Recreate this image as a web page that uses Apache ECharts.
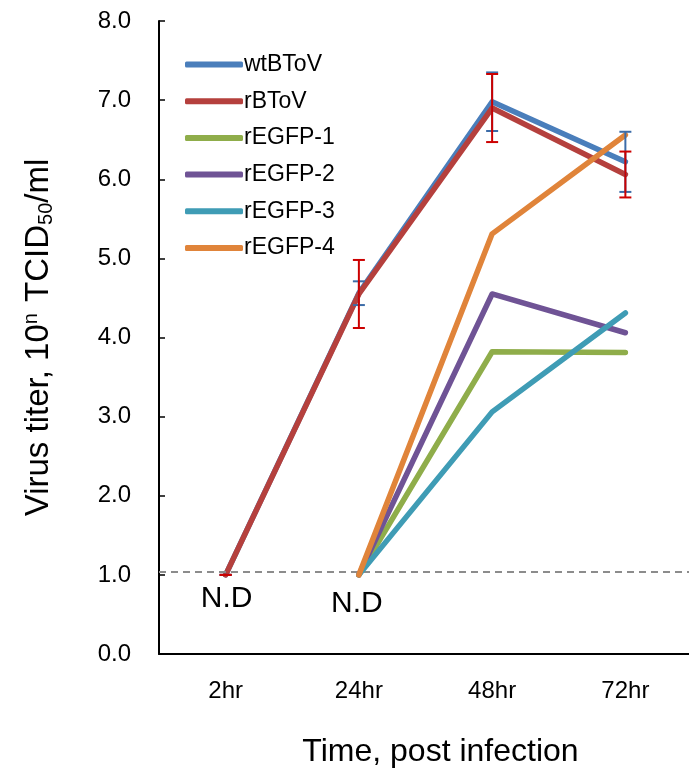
<!DOCTYPE html>
<html>
<head>
<meta charset="utf-8">
<script src="https://cdn.jsdelivr.net/npm/echarts@6/dist/echarts.min.js"></script>
<style>html,body{margin:0;padding:0;background:#fff}#c{width:689px;height:768px}</style>
</head>
<body>
<div id="c"></div>
<script>
const categories = ['2hr', '24hr', '48hr', '72hr'];
const yTicks = [0, 1, 2, 3, 4, 5, 6, 7, 8];
const wtBToV = [1.0, 4.56, 6.98, 6.22];
const wtBToVErr = [0, 0.15, 0.37, 0.38];
const rBToV = [1.0, 4.55, 6.90, 6.06];
const rBToVErr = [0, 0.43, 0.43, 0.29];
const rEGFP1 = [null, 1.0, 3.82, 3.81];
const rEGFP2 = [null, 1.0, 4.55, 4.06];
const rEGFP3 = [null, 1.0, 3.06, 4.31];
const rEGFP4 = [null, 1.0, 5.31, 6.56];
const detectionLimit = 1.04;
const ndLabels = [['2hr', 1.0, 'N.D'], ['24hr', 1.0, 'N.D']];

const FONT = '"Liberation Sans", Arial, sans-serif';
const colors = {
  wt: '#4A7EBB', r: '#B5403D', g1: '#8FAD4A', g2: '#6F5395', g3: '#3F9CB5', g4: '#E0843A'
};

function lineSeries(name, data, color, z) {
  return {
    name, type: 'line', data, z,
    symbol: 'none', smooth: false, connectNulls: false,
    lineStyle: { color, width: 5.5, cap: 'round', join: 'round' },
    itemStyle: { color },
    emphasis: { disabled: true }
  };
}

function errSeries(name, means, errs, color, z) {
  return {
    name: name + ' err', type: 'custom', z,
    data: means.map((m, i) => [i, m, errs[i]]),
    renderItem: function (params, api) {
      const x = api.value(0), m = api.value(1), e = api.value(2);
      const top = api.coord([x, m + e]);
      const bot = api.coord([x, m - e]);
      const hw = 6;
      const style = { stroke: color, lineWidth: 2 };
      return {
        type: 'group',
        children: [
          { type: 'line', shape: { x1: top[0], y1: top[1], x2: bot[0], y2: bot[1] }, style },
          { type: 'line', shape: { x1: top[0] - hw, y1: top[1], x2: top[0] + hw, y2: top[1] }, style },
          { type: 'line', shape: { x1: bot[0] - hw, y1: bot[1], x2: bot[0] + hw, y2: bot[1] }, style }
        ]
      };
    },
    silent: true
  };
}

const chart = echarts.init(document.getElementById('c'), null, { renderer: 'canvas' });
const rSeries = lineSeries('rBToV', rBToV, colors.r, 3);
rSeries.markLine = {
  silent: true, symbol: 'none', label: { show: false },
  lineStyle: { color: '#8C8C8C', type: [7, 5], width: 2 },
  data: [{ yAxis: detectionLimit }]
};
rSeries.markPoint = {
  silent: true, symbol: 'circle', symbolSize: 0,
  label: { show: true, formatter: p => p.name, color: '#000', fontFamily: FONT, fontSize: 30 },
  data: ndLabels.map((d, i) => ({ name: d[2], coord: [d[0], d[1]], label: { offset: i === 0 ? [1, 24] : [-2, 29] } }))
};

chart.setOption({
  animation: false,
  backgroundColor: '#fff',
  grid: { left: 159, top: 21, width: 533, bottom: 114, containLabel: false, outerBoundsMode: 'none' },
  legend: {
    orient: 'vertical', left: 180, top: 48,
    itemWidth: 58, itemHeight: 6, itemGap: 13.7,
    icon: 'roundRect',
    textStyle: { fontFamily: FONT, fontSize: 23, color: '#000', padding: [0, 0, 0, -4], lineHeight: 23 },
    data: ['wtBToV', 'rBToV', 'rEGFP-1', 'rEGFP-2', 'rEGFP-3', 'rEGFP-4']
  },
  xAxis: {
    type: 'category', data: categories, boundaryGap: true,
    axisLine: { lineStyle: { color: '#000', width: 2 } },
    axisTick: { show: false },
    axisLabel: { color: '#000', fontFamily: FONT, fontSize: 24, margin: 25 },
    name: 'Time, post infection', nameLocation: 'middle', nameGap: 82,
    nameTextStyle: { color: '#000', fontFamily: FONT, fontSize: 32, padding: [0, 0, 0, 30] }
  },
  yAxis: {
    type: 'value', min: yTicks[0], max: yTicks[yTicks.length - 1], interval: 1,
    splitLine: { show: false },
    axisLine: { show: true, lineStyle: { color: '#000', width: 2 } },
    axisTick: { show: true, inside: true, length: 6, lineStyle: { color: '#000', width: 1.5 } },
    axisLabel: { color: '#000', fontFamily: FONT, fontSize: 24, margin: 28, formatter: v => v.toFixed(1) },
    name: 'Virus titer, 10{sup|n} TCID{sub|50}/ml', nameLocation: 'middle', nameGap: 103,
    nameTextStyle: {
      color: '#000', fontFamily: FONT, fontSize: 33,
      rich: {
        sup: { fontSize: 20, verticalAlign: 'top', color: '#000', fontFamily: FONT, padding: [0, 2, 15, 0] },
        sub: { fontSize: 20, verticalAlign: 'bottom', color: '#000', fontFamily: FONT, padding: [11, 0, 0, 0] }
      }
    }
  },
  series: [
    lineSeries('wtBToV', wtBToV, colors.wt, 2),
    rSeries,
    lineSeries('rEGFP-1', rEGFP1, colors.g1, 4),
    lineSeries('rEGFP-2', rEGFP2, colors.g2, 5),
    lineSeries('rEGFP-3', rEGFP3, colors.g3, 6),
    lineSeries('rEGFP-4', rEGFP4, colors.g4, 7),
    errSeries('wtBToV', wtBToV, wtBToVErr, '#3C6CA8', 8),
    errSeries('rBToV', rBToV, rBToVErr, '#CC0000', 9)
  ]
});
</script>
</body>
</html>
